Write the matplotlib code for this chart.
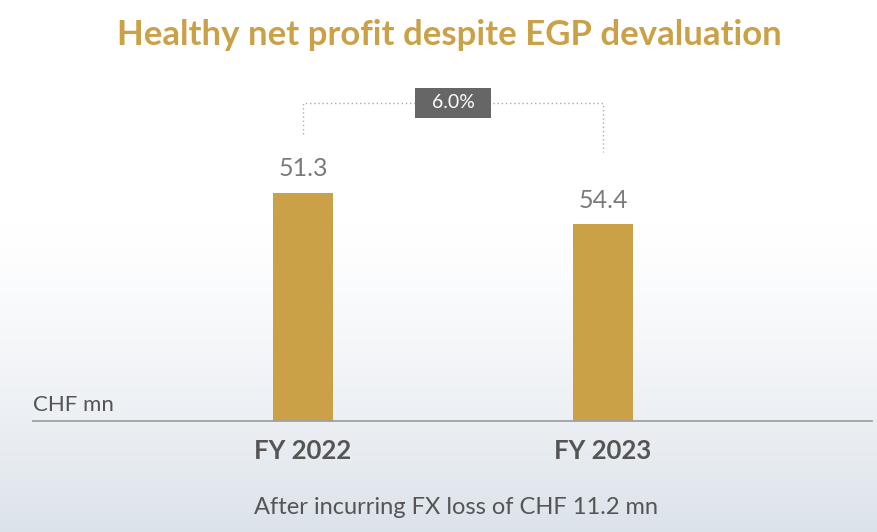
import numpy as np
import matplotlib

matplotlib.use("Agg")
import matplotlib.pyplot as plt

# ---------------------------------------------------------------
# Data
# ---------------------------------------------------------------
CATEGORIES = ["FY 2022", "FY 2023"]
VALUES = [51.3, 54.4]            # printed labels (CHF mn)
# the slide draws the bars at these relative heights (not to scale with labels)
BAR_HEIGHTS = [228, 197]
GROWTH_LABEL = "6.0%"
TITLE = "Healthy net profit despite EGP devaluation"
UNIT = "CHF mn"
FOOTNOTE = "After incurring FX loss of CHF 11.2 mn"

GOLD = "#CBA148"
GREY_TXT = "#7a7a7a"
DARK_TXT = "#555555"
BOX_GREY = "#666666"

W, H = 877, 532
plt.rcParams["font.family"] = ["Lato", "DejaVu Sans"]

fig = plt.figure(figsize=(W / 100, H / 100), dpi=100)

# background gradient (white top, pale blue-grey bottom)
bg = fig.add_axes([0, 0, 1, 1], zorder=0)
rows = np.linspace(0, 1, 256)
t = np.clip((rows - 0.42) / 0.58, 0, 1) ** 1.3
top = np.array([1.0, 1.0, 1.0])
bot = np.array([0.865, 0.89, 0.92])
grad = top[None, :] * (1 - t[:, None]) + bot[None, :] * t[:, None]
bg.imshow(grad[:, None, :], aspect="auto", extent=[0, 1, 1, 0])
bg.set_axis_off()

# main axes: baseline at y=421px, spanning x 33..872 px
ax_left, ax_right = 33 / W, 872 / W
ax_bottom, ax_top = (H - 421) / H, (H - 60) / H
ax = fig.add_axes([ax_left, ax_bottom, ax_right - ax_left, ax_top - ax_bottom], zorder=1)
ax.patch.set_alpha(0)

x = np.arange(len(CATEGORIES))
ax.bar(x, BAR_HEIGHTS, width=0.2, color=GOLD, zorder=2)
ax.set_xlim(-0.9, 1.897)
ax.set_ylim(0, 361)
for s in ["top", "right", "left"]:
    ax.spines[s].set_visible(False)
ax.spines["bottom"].set_color("#a0a0a0")
ax.spines["bottom"].set_linewidth(1.3)
ax.set_yticks([])
ax.set_xticks(x)
ax.set_xticklabels(CATEGORIES, fontsize=18.5, fontweight="bold", color=DARK_TXT)
ax.tick_params(axis="x", length=0, pad=13)

for xi, h, v in zip(x, BAR_HEIGHTS, VALUES):
    ax.annotate(f"{v:.1f}", (xi, h), xytext=(0, 9), textcoords="offset points",
                ha="center", va="bottom", fontsize=18, color=GREY_TXT)

# growth bracket
bracket_y = max(BAR_HEIGHTS) + 90
left_end = BAR_HEIGHTS[0] + 59
right_end = BAR_HEIGHTS[1] + 72
ax.plot([x[0], x[0], x[1], x[1]], [left_end, bracket_y, bracket_y, right_end],
        color="#aaaaaa", lw=1, ls=(0, (1, 2)), zorder=1)
ax.text((x[0] + x[1]) / 2, bracket_y, f"  {GROWTH_LABEL}  ", ha="center", va="center",
        fontsize=14, color="white", zorder=3,
        bbox=dict(boxstyle="square,pad=0.35", fc=BOX_GREY, ec="none"))

fig.text(449 / W, 1 - 35 / H, TITLE, ha="center", va="center",
         fontsize=25, fontweight="bold", color=GOLD)
fig.text(33 / W, 1 - 405 / H, UNIT, ha="left", va="center",
         fontsize=16, color=DARK_TXT)
fig.text(456 / W, 1 - 508 / H, FOOTNOTE, ha="center", va="center",
         fontsize=17, color=DARK_TXT)

fig.savefig("out.png", dpi=100)
